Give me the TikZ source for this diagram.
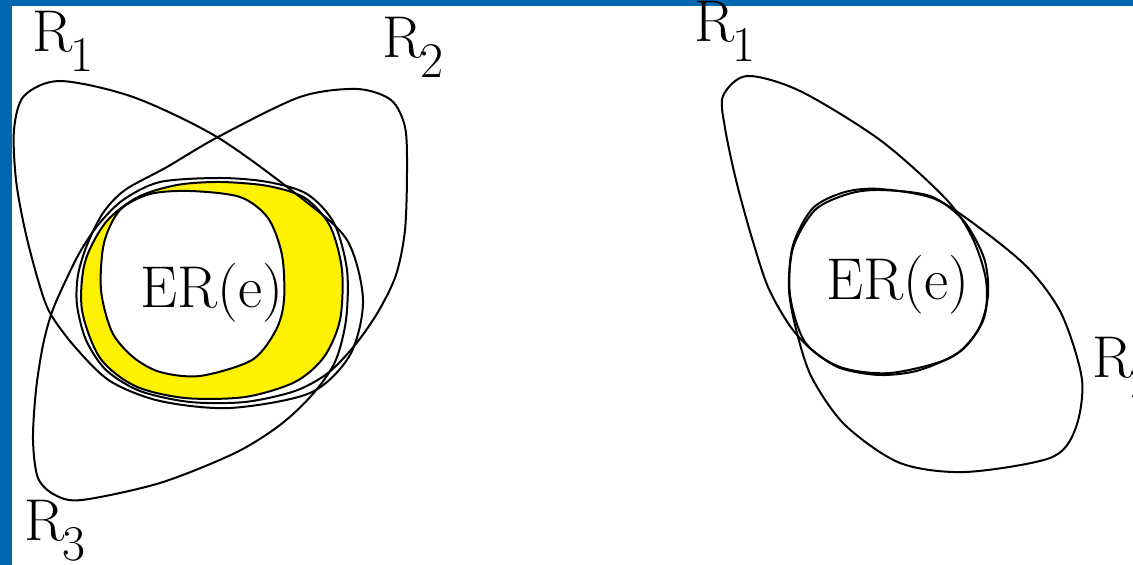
\documentclass[tikz,border=0pt]{standalone}
\usepackage{fontspec}
\usepackage{tikz}
\usetikzlibrary{positioning}
\definecolor{frameblue}{RGB}{0,102,176}
\colorlet{ringfill}{yellow}
\newcommand{\rlab}[1]{R\kern-1.2pt\raisebox{-10pt}{\fontsize{25}{25}\selectfont #1}}
% closed curves, in pixel units of the frame
\newcommand{\leftRone}{plot[smooth cycle] coordinates {(60,81) (133,97) (217,137) (300,197) (347,240) (363,300) (350,355) (310,393) (230,408) (160,401) (110,381) (75,347) (50,313) (38,280) (25,230) (16,180) (14,130) (24,96)}}
\newcommand{\leftRtwo}{plot[smooth cycle] coordinates {(357,89) (391,100) (405,127) (407,170) (405,230) (396,275) (378,312) (355,345) (328,373) (295,391) (245,402) (190,402) (140,391) (106,370) (86,340) (77,305) (78,275) (87,245) (103,213) (125,190) (167,167) (218,137) (300,97)}}
\newcommand{\leftRthree}{plot[smooth cycle] coordinates {(82,500) (55,495) (38,478) (33,440) (36,390) (43,345) (52,312) (65,282) (80,252) (98,225) (123,200) (160,182) (220,178) (268,182) (307,194) (334,223) (347,270) (346,320) (335,362) (312,395) (280,425) (235,453) (160,483)}}
\newcommand{\leftRing}{plot[smooth cycle] coordinates {(220,182) (268,186) (305,198) (330,226) (342,270) (340,320) (324,357) (295,382) (245,397) (185,398) (135,386) (100,358) (82,310) (85,262) (106,222) (138,197) (177,185)}}
\newcommand{\leftER}{plot[smooth cycle] coordinates {(190,191) (240,197) (268,218) (282,255) (284,300) (276,330) (252,360) (200,376) (160,372) (133,357) (112,332) (101,290) (104,243) (120,210) (150,194)}}
\newcommand{\rightRone}{plot[smooth cycle] coordinates {(747,76) (800,91) (880,140) (945,198) (972,237) (986,280) (984,318) (962,350) (920,370) (880,375) (840,368) (812,350) (790,326) (768,287) (751,235) (736,180) (725,128) (723,96)}}
\newcommand{\rightRtwo}{plot[smooth cycle] coordinates {(880,189) (935,199) (985,232) (1030,270) (1062,315) (1082,380) (1075,430) (1050,458) (965,472) (900,463) (845,425) (812,378) (797,333) (789,290) (793,245) (813,208) (845,192)}}
\newcommand{\rightER}{plot[smooth cycle] coordinates {(880,190) (930,196) (963,220) (984,258) (988,295) (978,330) (950,358) (890,373) (840,367) (805,342) (790,295) (793,248) (815,210) (848,194)}}

\begin{document}
\begin{tikzpicture}[x=0.5pt, y=-0.5pt, outline/.style={line width=1pt, line join=round},
    lbl/.style={inner sep=0pt, anchor=base west, font=\rmfamily\fontsize{29.5}{29.5}\selectfont}]
      \useasboundingbox (0,0) rectangle (1133,565);
      \fill[white] (0,0) rectangle (1133,565);

      % --- frame ---
      \fill[frameblue] (0,0) rectangle (12,565);
      \fill[frameblue] (0,0) rectangle (1133,6);

      % --- left: yellow ring and ER(e) ---
      \filldraw[fill=ringfill, outline] \leftRing;
      \filldraw[fill=white, outline] \leftER;

      % --- left: R_1, R_2, R_3 ---
      \draw[outline] \leftRone;
      \draw[outline] \leftRtwo;
      \draw[outline] \leftRthree;

      \node[lbl] (erL) at (140,308) {ER(e)};
      \node[lbl] (roneL) at (32,52) {\rlab{1}};
      \node[lbl] (rtwoL) at (382,58) {\rlab{2}};
      \node[lbl] (rthreeL) at (24,540) {\rlab{3}};

      % --- right: R_1, R_2 meet in ER(e) ---
      \draw[outline] \rightER;
      \draw[outline] \rightRone;
      \draw[outline] \rightRtwo;

      \node[lbl] (erR) at (826,300) {ER(e)};
      \node[lbl] (roneR) at (694,42) {\rlab{1}};
      \node[lbl] (rtwoR) at (1092,378) {\rlab{2}};
\end{tikzpicture}
\end{document}
